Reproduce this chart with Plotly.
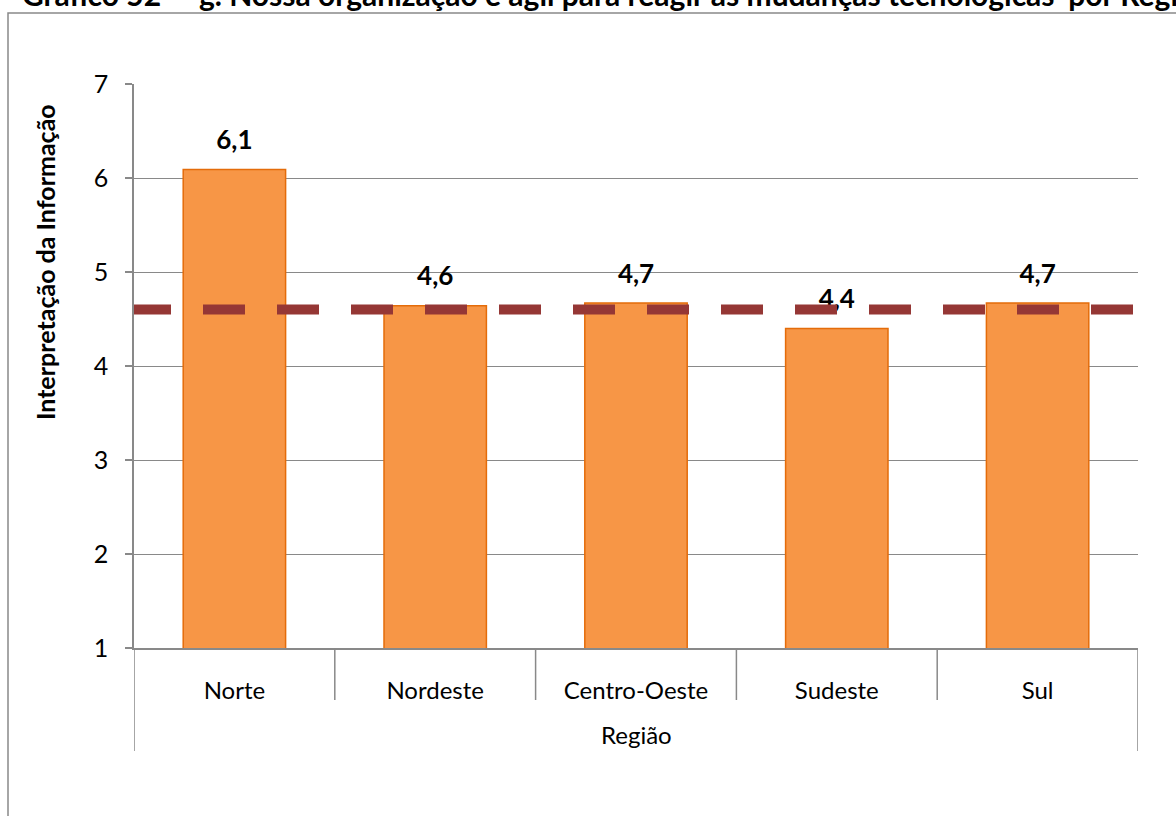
import plotly.graph_objects as go

# Regional averages
regioes = ["Norte", "Nordeste", "Centro-Oeste", "Sudeste", "Sul"]
medias = [6.09, 4.64, 4.67, 4.40, 4.67]
media_geral = 4.6

titulo = "Gráfico 52 – 'g. Nossa organização é ágil para reagir às mudanças tecnológicas' por Região"
titulo_y = "Interpretação da Informação"
titulo_x = "Região"

y_ticks = [1, 2, 3, 4, 5, 6, 7]

FONT = "Lato"
GRAY = "#898989"
ORANGE = "#F79646"
ORANGE_EDGE = "#E46C0A"
DARK_RED = "#953735"

W, H = 1176, 816
ML, MR, MT, MB = 134, 38, 84, 168
plot_h = H - MT - MB
plot_w = W - ML - MR
y_min, y_max = y_ticks[0], y_ticks[-1]
px_per_unit = plot_h / (y_max - y_min)
label_lift = 27 / px_per_unit  # label centre sits above the bar top


def px_to_paper_x(px):
    return (px - ML) / plot_w


def px_to_paper_y(py):
    return (H - MB - py) / plot_h


fig = go.Figure()

fig.add_trace(go.Bar(
    x=regioes, y=medias, width=0.51,
    marker=dict(color=ORANGE, line=dict(color=ORANGE_EDGE, width=1.5)),
    hoverinfo="skip", showlegend=False,
))

# value labels on an overlaid axis shifted upward
fig.add_trace(go.Scatter(
    x=regioes, y=medias, yaxis="y2", mode="text",
    text=[f"{v:.1f}".replace(".", ",") for v in medias],
    textposition="middle center",
    textfont=dict(family=FONT, size=26, color="black", weight="bold"),
    hoverinfo="skip", showlegend=False,
))

# dash pattern: first dash shortened, then regular dashes
dash_pattern = "37px,32px," + ",".join(["42px,32px"] * 14)

shapes = [
    dict(type="line", xref="x domain", x0=0, x1=1, yref="y", y0=media_geral, y1=media_geral,
         line=dict(color=DARK_RED, width=10, dash=dash_pattern), layer="above"),
    # outer frame
    dict(type="rect", xref="paper", x0=px_to_paper_x(8), x1=1.3,
         yref="paper", y0=-0.6, y1=px_to_paper_y(13),
         line=dict(color=GRAY, width=1.5), fillcolor="rgba(0,0,0,0)", layer="below"),
]

# category separators below the axis
n = len(regioes)
for i in range(n + 1):
    outer = i in (0, n)
    shapes.append(dict(
        type="line", xref="x", x0=i - 0.5, x1=i - 0.5,
        yref="paper", y0=0, y1=px_to_paper_y(751 if outer else 700),
        line=dict(color=GRAY, width=1.5), layer="above",
    ))

annotations = [
    dict(text=f"<b>{titulo}</b>", xref="paper", yref="paper",
         x=px_to_paper_x(20), y=px_to_paper_y(-6), xanchor="left", yanchor="middle",
         showarrow=False, font=dict(family=FONT, size=30, color="black")),
    dict(text=f"<b>{titulo_y}</b>", xref="paper", yref="paper",
         x=px_to_paper_x(45), y=px_to_paper_y(262), textangle=-90,
         xanchor="center", yanchor="middle", showarrow=False,
         font=dict(family=FONT, size=25, color="black")),
    dict(text=titulo_x, xref="paper", yref="paper",
         x=0.5, y=px_to_paper_y(734), xanchor="center", yanchor="middle",
         showarrow=False, font=dict(family=FONT, size=24, color="black")),
]

fig.update_layout(
    width=W, height=H,
    margin=dict(l=ML, r=MR, t=MT, b=MB),
    paper_bgcolor="white", plot_bgcolor="white",
    font=dict(family=FONT, size=24, color="black"),
    bargap=0.49,
    xaxis=dict(
        type="category", range=[-0.5, n - 0.5],
        showline=True, linecolor=GRAY, linewidth=1.5,
        ticks="", ticklabelstandoff=20, showgrid=False,
        tickfont=dict(family=FONT, size=24),
    ),
    yaxis=dict(
        range=[y_min, y_max], tickvals=y_ticks,
        showgrid=True, gridcolor=GRAY, gridwidth=1.2,
        showline=True, linecolor=GRAY, linewidth=1.5,
        ticks="outside", ticklen=7, tickcolor=GRAY, tickwidth=1.5,
        ticklabelstandoff=12, zeroline=False,
        tickfont=dict(family=FONT, size=25),
    ),
    yaxis2=dict(
        overlaying="y", range=[y_min - label_lift, y_max - label_lift],
        visible=False,
    ),
    shapes=shapes,
    annotations=annotations,
)

fig.write_html("out.html")
